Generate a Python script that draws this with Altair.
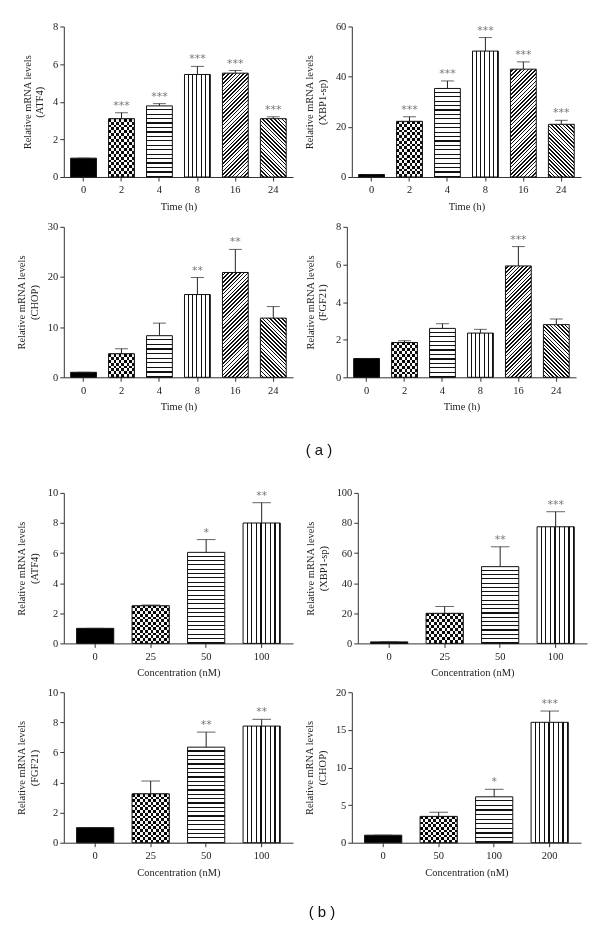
import math
import altair as alt
import pandas as pd

SERIF = "Liberation Serif"

# ---------------- data ----------------
time_cats = ["0", "2", "4", "8", "16", "24"]
conc_cats = ["0", "25", "50", "100"]
chop_conc_cats = ["0", "50", "100", "200"]

atf4_time = [1.0, 3.1, 3.78, 5.45, 5.52, 3.1]
atf4_time_top = [1.0, 3.42, 3.9, 5.88, 5.66, 3.2]
atf4_time_sig = ["", "***", "***", "***", "***", "***"]

xbp1_time = [1.0, 22.2, 35.3, 50.2, 43.0, 21.0]
xbp1_time_top = [1.0, 24.0, 38.3, 55.6, 45.9, 22.6]
xbp1_time_sig = ["", "***", "***", "***", "***", "***"]

chop_time = [1.0, 4.7, 8.3, 16.5, 20.9, 11.8]
chop_time_top = [1.0, 5.7, 10.8, 19.9, 25.5, 14.1]
chop_time_sig = ["", "", "", "**", "**", ""]

fgf21_time = [1.0, 1.85, 2.6, 2.35, 5.92, 2.8]
fgf21_time_top = [1.0, 1.95, 2.85, 2.55, 6.95, 3.1]
fgf21_time_sig = ["", "", "", "", "***", ""]

atf4_conc = [1.0, 2.5, 6.05, 8.0]
atf4_conc_top = [1.0, 2.55, 6.9, 9.35]
atf4_conc_sig = ["", "", "*", "**"]

xbp1_conc = [1.0, 20.0, 51.0, 77.5]
xbp1_conc_top = [1.0, 24.5, 64.2, 87.5]
xbp1_conc_sig = ["", "", "**", "***"]

fgf21_conc = [1.0, 3.25, 6.35, 7.75]
fgf21_conc_top = [1.0, 4.1, 7.35, 8.2]
fgf21_conc_sig = ["", "", "**", "**"]

chop_conc = [1.0, 3.5, 6.1, 16.0]
chop_conc_top = [1.0, 4.05, 7.1, 17.5]
chop_conc_sig = ["", "", "*", "***"]

W, H = 230, 151


# ---------------- pattern helpers (style only) ----------------
def stripe_stops(n, dark_frac, dark="#111111", light="#ffffff"):
    n = max(1, int(round(n)))
    st = []
    for k in range(n):
        a = k / n
        b = (k + 1 - dark_frac) / n
        c = (k + 1) / n
        st += [
            alt.GradientStop(offset=round(a, 5), color=light),
            alt.GradientStop(offset=round(b, 5), color=light),
            alt.GradientStop(offset=round(b, 5), color=dark),
            alt.GradientStop(offset=round(c, 5), color=dark),
        ]
    return st


def grad(stops, x1, y1, x2, y2):
    return alt.LinearGradient(gradient="linear", stops=stops, x1=x1, y1=y1, x2=x2, y2=y2)


def panel(cats, vals, tops, sig, ymax, ystep, gene, xtitle, pi, po):
    df = pd.DataFrame({"c": cats, "v": vals, "e": tops, "s": sig})
    xs = alt.Scale(domain=cats, paddingInner=pi, paddingOuter=po)
    xenc = alt.X("c:N", scale=xs, sort=cats,
                 axis=alt.Axis(title=xtitle, labelAngle=0, titlePadding=6, labelPadding=4))
    yaxis = alt.Axis(values=list(range(0, ymax + 1, ystep)),
                     title=["Relative mRNA levels", f"({gene})"], titlePadding=8)
    ys = alt.Scale(domain=[0, ymax], nice=False, zero=True)

    def Y(f):
        return alt.Y(f"{f}:Q", scale=ys, axis=yaxis)

    base = alt.Chart(df).encode(x=xenc)
    step = W / (len(cats) - pi + 2 * po)
    bw = step * (1 - pi)
    layers = []
    for i, c in enumerate(cats):
        h = max(vals[i] / ymax * H, 1)
        sub = base.transform_filter(alt.datum.c == c)
        if i == 0:
            layers.append(sub.mark_bar(fill="#000000", strokeWidth=0).encode(y=Y("v")))
        elif i == 1:
            per = 5.6
            layers.append(sub.mark_bar(strokeWidth=0,
                                       fill=grad(stripe_stops(bw / per, 0.5), 0, 0, 1, 0)).encode(y=Y("v")))
            layers.append(sub.mark_bar(strokeWidth=0, blend="difference",
                                       fill=grad(stripe_stops(h / per, 0.5, dark="#000000", light="#ffffff"), 0, 0, 0, 1)).encode(y=Y("v")))
        elif i == 2:
            layers.append(sub.mark_bar(strokeWidth=0,
                                       fill=grad(stripe_stops(h / 4.4, 0.27), 0, 0, 0, 1)).encode(y=Y("v")))
        elif i == 3:
            layers.append(sub.mark_bar(strokeWidth=0,
                                       fill=grad(stripe_stops(bw / 4.4, 0.26), 0, 0, 1, 0)).encode(y=Y("v")))
        else:
            s = (bw + h) / (bw * bw + h * h)
            n = (bw + h) / (math.sqrt(2) * 2.7)
            if i == 4:
                g = grad(stripe_stops(n, 0.42), 0, 0, bw * s, h * s)
            else:
                g = grad(stripe_stops(n, 0.42), 0, 1, bw * s, 1 - h * s)
            layers.append(sub.mark_bar(strokeWidth=0, fill=g).encode(y=Y("v")))
    outline = base.mark_bar(fillOpacity=0, stroke="#111111", strokeWidth=1).encode(y=Y("v"))
    rule = base.mark_rule(color="#222222", strokeWidth=1).encode(y=Y("v"), y2="e:Q")
    cap = base.mark_tick(color="#222222", thickness=1, size=bw * 0.5).encode(y=Y("e"))
    stars = base.mark_text(font="DejaVu Sans", fontSize=11, color="#777777", dy=-7).encode(
        y=Y("e"), text="s:N")
    return alt.layer(*layers, outline, rule, cap, stars).properties(width=W, height=H)


TT = "Time (h)"
CT = "Concentration (nM)"
tp = dict(pi=0.32, po=0.18)
cp = dict(pi=0.33, po=0.23)

p1 = panel(time_cats, atf4_time, atf4_time_top, atf4_time_sig, 8, 2, "ATF4", TT, **tp)
p2 = panel(time_cats, xbp1_time, xbp1_time_top, xbp1_time_sig, 60, 20, "XBP1-sp", TT, **tp)
p3 = panel(time_cats, chop_time, chop_time_top, chop_time_sig, 30, 10, "CHOP", TT, **tp)
p4 = panel(time_cats, fgf21_time, fgf21_time_top, fgf21_time_sig, 8, 2, "FGF21", TT, **tp)
p5 = panel(conc_cats, atf4_conc, atf4_conc_top, atf4_conc_sig, 10, 2, "ATF4", CT, **cp)
p6 = panel(conc_cats, xbp1_conc, xbp1_conc_top, xbp1_conc_sig, 100, 20, "XBP1-sp", CT, **cp)
p7 = panel(conc_cats, fgf21_conc, fgf21_conc_top, fgf21_conc_sig, 10, 2, "FGF21", CT, **cp)
p8 = panel(chop_conc_cats, chop_conc, chop_conc_top, chop_conc_sig, 20, 5, "CHOP", CT, **cp)

lab = dict(orient="bottom", font="Liberation Sans", fontSize=15, fontWeight="normal",
           color="#111111", anchor="middle", dx=20)

top = alt.vconcat(alt.hconcat(p1, p2, spacing=12), alt.hconcat(p3, p4, spacing=12), spacing=10).properties(
    title=alt.TitleParams("( a )", offset=31, **lab))
bottom = alt.vconcat(alt.hconcat(p5, p6, spacing=12), alt.hconcat(p7, p8, spacing=12), spacing=9).properties(
    title=alt.TitleParams("( b )", offset=28, **lab))

chart = alt.vconcat(top, bottom, spacing=30).properties(
    padding={"left": 9, "top": 12, "right": 5, "bottom": 5}
).configure_view(stroke=None).configure_axis(
    grid=False, labelFont=SERIF, titleFont=SERIF, labelFontSize=10.5, titleFontSize=10.5,
    titleFontWeight="normal", labelColor="#222222", titleColor="#222222",
    domainColor="#333333", tickColor="#333333", tickSize=4
)

chart.save("out.html", embed_options={"renderer": "svg", "actions": False})
